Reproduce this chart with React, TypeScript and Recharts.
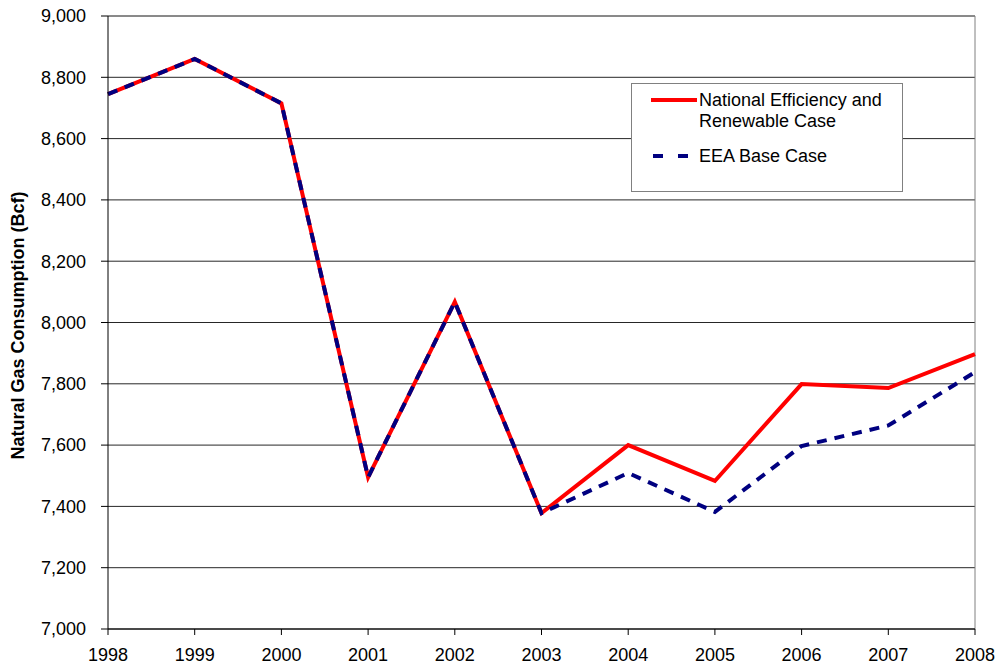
import React from "react";
import {
	LineChart,
	Line,
	XAxis,
	YAxis,
	CartesianGrid,
	ReferenceLine,
} from "recharts";

const years = [1998, 1999, 2000, 2001, 2002, 2003, 2004, 2005, 2006, 2007, 2008];
const nationalEfficiency = [8745, 8860, 8715, 7495, 8067, 7378, 7600, 7483, 7799, 7786, 7897];
const eeaBase = [8745, 8860, 8715, 7495, 8067, 7378, 7509, 7382, 7597, 7664, 7838];
const yTicks = [7000, 7200, 7400, 7600, 7800, 8000, 8200, 8400, 8600, 8800, 9000];

const data = years.map((year, i) => ({
	year,
	national: nationalEfficiency[i],
	eea: eeaBase[i],
}));

const font = "'Liberation Sans', Arial, sans-serif";

const LegendBox = () => (
	<div
		style={{
			position: "absolute",
			left: 631,
			top: 83,
			width: 270,
			height: 107,
			border: "1px solid #808080",
			background: "#fff",
			fontFamily: font,
			fontSize: 18,
			color: "#000",
		}}
	>
		<svg width={50} height={80} style={{ position: "absolute", left: 18, top: 0 }}>
			<line x1={1} x2={47} y1={16} y2={16} stroke="#ff0000" strokeWidth={4} />
			<line x1={3} x2={47} y1={72} y2={72} stroke="#000080" strokeWidth={4} strokeDasharray="10 15" />
		</svg>
		<div style={{ position: "absolute", left: 67, top: 6, lineHeight: "21px" }}>
			National Efficiency and
			<br />
			Renewable Case
		</div>
		<div style={{ position: "absolute", left: 67, top: 62, lineHeight: "21px" }}>
			EEA Base Case
		</div>
	</div>
);

const YLabel = (props: any) => {
	const { viewBox } = props;
	const cx = 18;
	const cy = viewBox.y + viewBox.height / 2 + 3;
	return (
		<text
			x={cx}
			y={cy}
			transform={`rotate(-90, ${cx}, ${cy})`}
			textAnchor="middle"
			dominantBaseline="central"
			fontFamily={font}
			fontSize={18}
			fontWeight="bold"
			fill="#000"
		>
			Natural Gas Consumption (Bcf)
		</text>
	);
};

export default function App() {
	return (
		<div style={{ position: "absolute", left: 0, top: 0, background: "#fff" }}>
			<LineChart
				width={996}
				height={668}
				data={data}
				margin={{ top: 16, right: 21, bottom: 0, left: 0 }}
			>
				<CartesianGrid vertical={false} stroke="#000" strokeOpacity={0.85} />
				<XAxis
					dataKey="year"
					type="number"
					domain={[1998, 2008]}
					ticks={years}
					height={39}
					axisLine={{ stroke: "#000" }}
					tickLine={{ stroke: "#000" }}
					tickSize={6}
					tickMargin={13}
					tick={{ fill: "#000", fontSize: 18, fontFamily: font }}
					interval={0}
				/>
				<YAxis
					domain={[7000, 9000]}
					ticks={yTicks}
					width={108}
					axisLine={{ stroke: "#000" }}
					tickLine={{ stroke: "#000" }}
					tickSize={7}
					tickMargin={15}
					tick={{ fill: "#000", fontSize: 18, fontFamily: font }}
					tickFormatter={(v: number) => v.toLocaleString("en-US")}
					interval={0}
					label={<YLabel />}
				/>
				<ReferenceLine x={2008} stroke="#808080" />
				<ReferenceLine y={9000} stroke="#808080" />
				<Line
					dataKey="national"
					stroke="#ff0000"
					strokeWidth={4}
					dot={false}
					isAnimationActive={false}
				/>
				<Line
					dataKey="eea"
					stroke="#000080"
					strokeWidth={4}
					strokeDasharray="10 8"
					dot={false}
					isAnimationActive={false}
				/>
			</LineChart>
			<LegendBox />
		</div>
	);
}
